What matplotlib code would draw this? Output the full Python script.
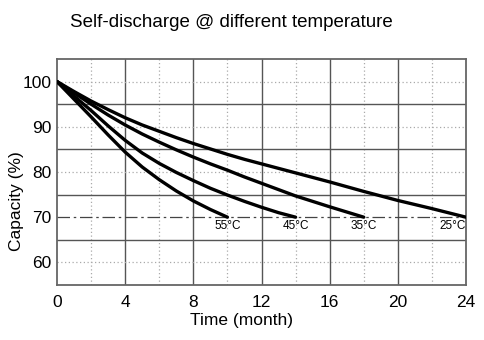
import matplotlib.pyplot as plt
from matplotlib.ticker import MultipleLocator

plt.rcParams["font.family"] = ["Liberation Sans", "DejaVu Sans"]

# Datos (capacidad % contra meses)
meses_25 = [0, 1, 2, 3, 4, 5, 6, 7, 8, 9, 10, 11, 12, 13, 14, 16, 18, 20, 22, 24]
cap_25 = [100, 97.8, 95.7, 93.8, 92.0, 90.4, 89.0, 87.6, 86.3, 85.1, 83.9,
          82.8, 81.8, 80.8, 79.8, 77.8, 75.7, 73.7, 71.9, 70.0]
meses_35 = [0, 1, 2, 3, 4, 5, 6, 7, 8, 9, 10, 11, 12, 13, 14, 16, 18]
cap_35 = [100, 97.5, 95.0, 92.6, 90.4, 88.4, 86.6, 84.9, 83.3, 81.8, 80.4,
          78.9, 77.5, 76.1, 74.7, 72.3, 70.0]
meses_45 = [0, 1, 2, 3, 4, 5, 6, 7, 8, 9, 10, 11, 12, 13, 14]
cap_45 = [100, 96.8, 93.6, 90.2, 87.0, 84.2, 81.9, 79.9, 78.1, 76.4, 74.9,
          73.5, 72.2, 71.0, 70.0]
meses_55 = [0, 1, 2, 3, 4, 5, 6, 7, 8, 9, 10]
cap_55 = [100, 96.1, 92.2, 88.2, 84.4, 81.1, 78.3, 75.8, 73.6, 71.7, 70.0]

series = [("25°C", meses_25, cap_25), ("35°C", meses_35, cap_35),
          ("45°C", meses_45, cap_45), ("55°C", meses_55, cap_55)]
limite = 70

fig = plt.figure(figsize=(4.84, 3.4), dpi=100)
ax = fig.add_axes([0.1178, 0.1618, 0.845, 0.6647])

ax.set_xlim(0, 24)
ax.set_ylim(55, 105)
ax.xaxis.set_major_locator(MultipleLocator(4))
ax.set_yticks([60, 70, 80, 90, 100])

# Rejilla: lineas solidas y punteadas
for x in range(4, 24, 4):
    ax.axvline(x, color="#555555", lw=1.0, zorder=1)
for x in range(2, 24, 4):
    ax.axvline(x, color="#aaaaaa", lw=0.9, ls=(0, (1, 2)), zorder=1)
for y in [65, 75, 85, 95]:
    ax.axhline(y, color="#555555", lw=1.0, zorder=1)
for y in [60, 80, 90, 100]:
    ax.axhline(y, color="#aaaaaa", lw=0.9, ls=(0, (1, 2)), zorder=1)
ax.axhline(limite, color="#444444", lw=0.9, ls=(0, (10, 3, 2, 3)), zorder=1)

for nombre, x_vals, y_vals in series:
    ax.plot(x_vals, y_vals, color="black", lw=2.4,
            solid_capstyle="round", solid_joinstyle="round", zorder=3)
    x_fin = x_vals[-1]
    ha = "right" if x_fin == 24 else "center"
    ax.text(x_fin, limite - 0.7, nombre, ha=ha, va="top", fontsize=8.5)

for lado in ax.spines.values():
    lado.set_color("#666666")
    lado.set_linewidth(1.3)

ax.tick_params(axis="both", which="both", length=0, labelsize=12.5)
ax.tick_params(axis="x", pad=7)
ax.tick_params(axis="y", pad=4)

ax.set_xlabel("Time (month)", fontsize=12.5, va="center")
ax.set_ylabel("Capacity (%)", fontsize=12.5, va="center")
ax.xaxis.set_label_coords(0.452, -0.158)
ax.yaxis.set_label_coords(-0.100, 0.369)

fig.text(0.479, 0.935, "Self-discharge @ different temperature",
         ha="center", va="center", fontsize=13.5)

fig.savefig("out.png", dpi=100)
